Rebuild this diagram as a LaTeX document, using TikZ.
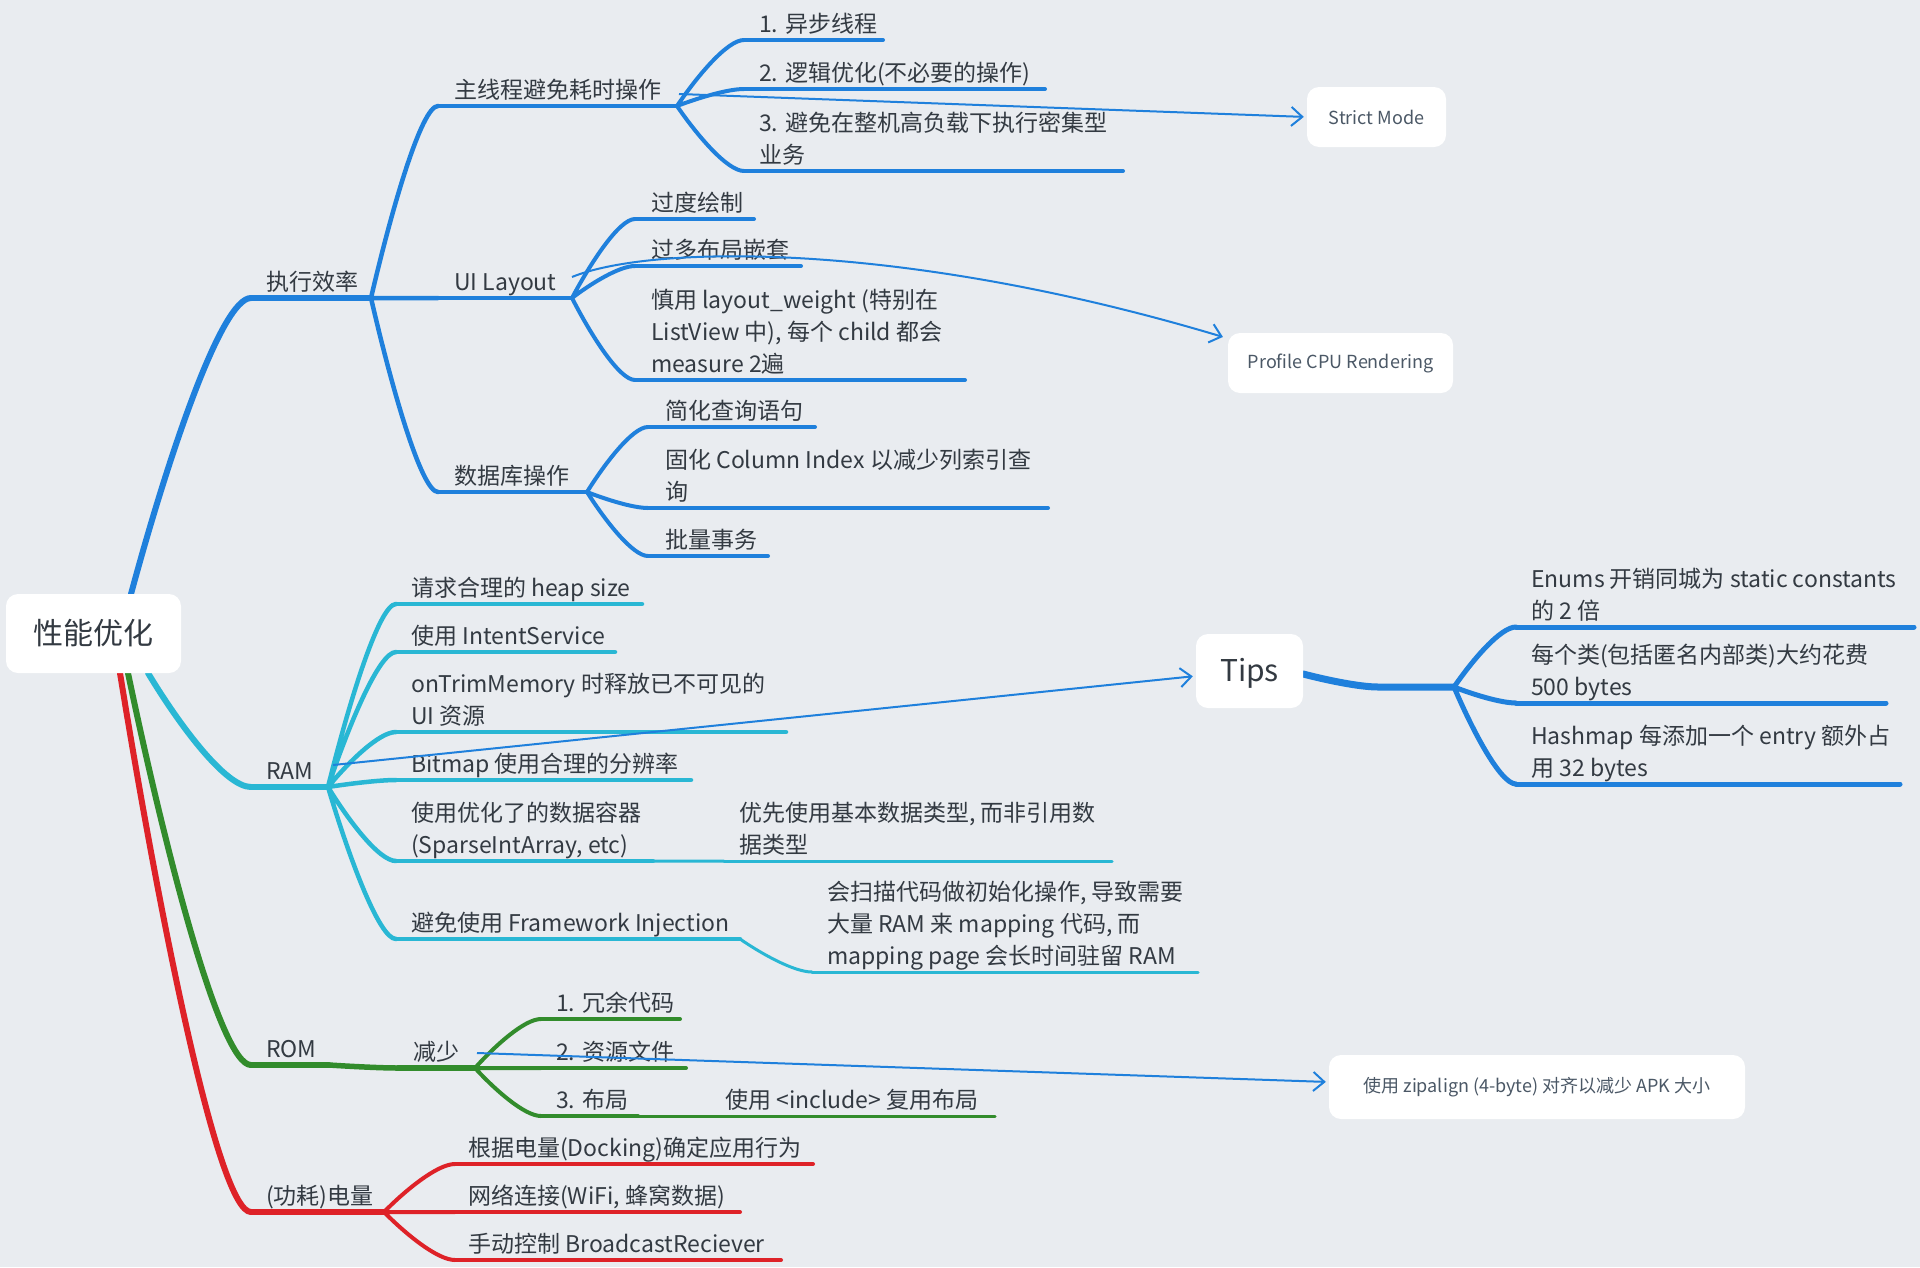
\documentclass[tikz,border=0pt]{standalone}
\usepackage{fontspec}
\setmainfont{Noto Sans CJK SC}
\usetikzlibrary{calc,arrows.meta,backgrounds}
\definecolor{bg}{RGB}{233,236,240}
\definecolor{mblue}{RGB}{31,128,220}
\definecolor{mcyan}{RGB}{41,183,212}
\definecolor{mgreen}{RGB}{50,140,44}
\definecolor{mred}{RGB}{222,34,40}
\definecolor{txtc}{RGB}{51,58,66}
\definecolor{boxtxt}{RGB}{75,88,102}
\newcommand\mlines[1]{\begin{tabular}[b]{@{}l@{}}#1\end{tabular}}
\tikzset{
  mind/.style={to path={let \p1=(\tikztostart), \p2=(\tikztotarget), \n1={\x2-\x1}, \n2={\y2-\y1} in
     .. controls +(0.3*\n1,0.45*\n2) and +(-0.25*\n1,0) .. (\tikztotarget)}},
  lab/.style={inner sep=0pt, anchor=base west, text=txtc, font=\fontsize{23}{32}\selectfont},
  mbox/.style={fill=white, rounded corners=12pt, inner sep=0pt, text=boxtxt},
  lw1/.style={line width=5.5pt, line cap=round},
  lw2/.style={line width=4.5pt, line cap=round},
  lw3/.style={line width=4pt, line cap=round},
  lw4/.style={line width=3pt, line cap=round},
  lwt/.style={line width=5pt, line cap=round},
  rel/.style={draw=mblue, line width=2pt, -{Straight Barb[length=11pt,width=19pt,line width=2pt]}, shorten >=3pt}
}
% #1 name, #2 line style, #3 x start, #4 x end, #5 y (down), #6 text offset, #7 text
\newcommand\mtopic[7]{%
  \coordinate (#1-s) at (#3,-#5);
  \coordinate (#1-e) at (#4,-#5);
  \node[lab] (#1) at (#3+#6,8-#5) {\mlines{#7}};
  \begin{scope}[on background layer]\draw[#2] (#1-s) -- (#1-e);\end{scope}
}
\begin{document}
\begin{tikzpicture}[x=1pt,y=1pt]
\useasboundingbox (0,0) rectangle (1920,-1267);
\begin{scope}[on background layer]
  \fill[bg] (0,0) rectangle (1920,-1267);
\end{scope}

% ---- boxes ----
\node[mbox, minimum width=175pt, minimum height=79pt, text=txtc, font=\fontsize{30}{36}\selectfont] (root) at (93.5,-633.5) {性能优化};
\node[mbox, minimum width=139pt, minimum height=60pt, font=\fontsize{18}{22}\selectfont] (strict) at (1376.5,-117) {Strict Mode};
\node[mbox, minimum width=225pt, minimum height=60pt, font=\fontsize{18}{22}\selectfont] (profile) at (1340.5,-363) {Profile CPU Rendering};
\node[mbox, minimum width=107pt, minimum height=74pt, text=txtc, font=\fontsize{30}{36}\selectfont, text depth=2pt] (tips) at (1249.5,-671) {Tips};
\node[mbox, minimum width=416pt, minimum height=64pt, font=\fontsize{18}{22}\selectfont] (zip) at (1537,-1087) {使用 zipalign (4-byte) 对齐以减少 APK 大小};

\coordinate (rA) at (131,-594);
\coordinate (rB) at (148,-673);
\coordinate (rC) at (128,-673);
\coordinate (rD) at (120,-673);

% ---- blue branch ----
\mtopic{zx}{lw1,draw=mblue}{251}{371}{298}{15}{执行效率}
\mtopic{zxc}{lw2,draw=mblue}{438}{677}{106}{16}{主线程避免耗时操作}
\mtopic{ui}{lw2,draw=mblue}{438}{572}{298}{16}{UI Layout}
\mtopic{db}{lw2,draw=mblue}{438}{587}{492}{16}{数据库操作}
\mtopic{a1}{lw3,draw=mblue}{744}{883}{40}{15}{1. 异步线程}
\mtopic{a2}{lw3,draw=mblue}{744}{1045}{89}{15}{2. 逻辑优化(不必要的操作)}
\mtopic{a3}{lw3,draw=mblue}{744}{1123}{171}{15}{3. 避免在整机高负载下执行密集型\\业务}
\mtopic{u1}{lw3,draw=mblue}{635}{754}{219}{16}{过度绘制}
\mtopic{u2}{lw3,draw=mblue}{635}{801}{266}{16}{过多布局嵌套}
\mtopic{u3}{lw3,draw=mblue}{635}{965}{380}{16}{慎用 layout\_weight (特别在\\ListView 中), 每个 child 都会\\measure 2遍}
\mtopic{d1}{lw3,draw=mblue}{648}{815}{427}{17}{简化查询语句}
\mtopic{d2}{lw3,draw=mblue}{648}{1048}{508}{17}{固化 Column Index 以减少列索引查\\询}
\mtopic{d3}{lw3,draw=mblue}{648}{768}{556}{17}{批量事务}

% ---- cyan branch ----
\mtopic{ram}{lw1,draw=mcyan}{251}{328}{787}{15}{RAM}
\mtopic{r1}{lw2,draw=mcyan}{396}{642}{604}{15}{请求合理的 heap size}
\mtopic{r2}{lw2,draw=mcyan}{396}{615}{652}{15}{使用 IntentService}
\mtopic{r3}{lw2,draw=mcyan}{396}{786}{732}{15}{onTrimMemory 时释放已不可见的\\UI 资源}
\mtopic{r4}{lw2,draw=mcyan}{396}{691}{780}{15}{Bitmap 使用合理的分辨率}
\mtopic{r5}{lw2,draw=mcyan}{396}{653}{861}{15}{使用优化了的数据容器\\(SparseIntArray, etc)}
\mtopic{r5a}{lw4,draw=mcyan}{724}{1112}{861}{15}{优先使用基本数据类型, 而非引用数\\据类型}
\mtopic{r6}{lw2,draw=mcyan}{396}{740}{939}{15}{避免使用 Framework Injection}
\mtopic{r6a}{lw4,draw=mcyan}{812}{1198}{972}{15}{会扫描代码做初始化操作, 导致需要\\大量 RAM 来 mapping 代码, 而\\mapping page 会长时间驻留 RAM}

% ---- tips ----
\coordinate (tk) at (1378,-687);
\coordinate (tj) at (1454,-687);
\mtopic{t1}{lwt,draw=mblue}{1516}{1914}{627}{15}{Enums 开销同城为 static constants\\的 2 倍}
\mtopic{t2}{lwt,draw=mblue}{1516}{1886}{703}{15}{每个类(包括匿名内部类)大约花费\\500 bytes}
\mtopic{t3}{lwt,draw=mblue}{1516}{1900}{784}{15}{Hashmap 每添加一个 entry 额外占\\用 32 bytes}

% ---- green branch ----
\mtopic{rom}{lw1,draw=mgreen}{251}{329}{1065}{15}{ROM}
\mtopic{js}{lw1,draw=mgreen}{398}{475}{1068}{15}{减少}
\mtopic{g1}{lw3,draw=mgreen}{541}{680}{1019}{15}{1. 冗余代码}
\mtopic{g2}{lw3,draw=mgreen}{541}{686}{1068}{15}{2. 资源文件}
\mtopic{g3}{lw3,draw=mgreen}{541}{638}{1116}{15}{3. 布局}
\mtopic{g3a}{lw4,draw=mgreen}{710}{995}{1116}{15}{使用 <include> 复用布局}

% ---- red branch ----
\mtopic{dl}{lw1,draw=mred}{251}{384}{1212}{15}{(功耗)电量}
\mtopic{e1}{lw3,draw=mred}{455}{813}{1164}{13}{根据电量(Docking)确定应用行为}
\mtopic{e2}{lw3,draw=mred}{455}{740}{1212}{13}{网络连接(WiFi, 蜂窝数据)}
\mtopic{e3}{lw3,draw=mred}{455}{781}{1260}{13}{手动控制 BroadcastReciever}

% ---- edges ----
\begin{scope}[on background layer]
  \draw[line width=6pt, line cap=round, draw=mblue] (rA) to[mind] (zx-s);
  \draw[lw2, draw=mblue] (zx-e) to[mind] (zxc-s) (zx-e) -- (ui-s) (zx-e) to[mind] (db-s);
  \draw[lw3, draw=mblue] (zxc-e) to[mind] (a1-s) (zxc-e) to[mind] (a2-s) (zxc-e) to[mind] (a3-s);
  \draw[lw3, draw=mblue] (ui-e) to[mind] (u1-s) (ui-e) to[mind] (u2-s) (ui-e) to[mind] (u3-s);
  \draw[lw3, draw=mblue] (db-e) to[mind] (d1-s) (db-e) to[mind] (d2-s) (db-e) to[mind] (d3-s);

  \draw[line width=6pt, line cap=round, draw=mcyan] (rB) to[mind] (ram-s);
  \draw[lw2, draw=mcyan] (ram-e) to[mind] (r1-s) (ram-e) to[mind] (r2-s) (ram-e) to[mind] (r3-s)
        (ram-e) to[mind] (r4-s) (ram-e) to[mind] (r5-s) (ram-e) to[mind] (r6-s);
  \draw[lw4, draw=mcyan] (r5-e) -- (r5a-s) (r6-e) to[mind] (r6a-s);

  \draw[line width=7pt, line cap=round, draw=mblue] ([yshift=-3pt]tips.east) to[mind] (tk) -- (tj);
  \draw[lwt, draw=mblue] (tj) to[mind] (t1-s) (tj) to[mind] (t2-s) (tj) to[mind] (t3-s);

  \draw[line width=6pt, line cap=round, draw=mgreen] (rC) to[mind] (rom-s);
  \draw[lw1, draw=mgreen] (rom-e) to[mind] (js-s);
  \draw[lw3, draw=mgreen] (js-e) to[mind] (g1-s) (js-e) -- (g2-s) (js-e) to[mind] (g3-s);
  \draw[lw4, draw=mgreen] (g3-e) -- (g3a-s);

  \draw[line width=6pt, line cap=round, draw=mred] (rD) to[mind] (dl-s);
  \draw[lw3, draw=mred] (dl-e) to[mind] (e1-s) (dl-e) -- (e2-s) (dl-e) to[mind] (e3-s);
\end{scope}

% ---- relation arrows ----
\coordinate (s1) at (679,-94);
\coordinate (s2) at (572,-277);
\coordinate (s3) at (333,-765);
\coordinate (s4) at (477,-1053);
\draw[rel] (s1) -- (strict.west);
\draw[rel] (s2) .. controls (650,-245) and (900,-240) .. ([shift={(-2,-5)}]profile.north west);
\draw[rel] (s3) -- ([yshift=-5pt]tips.west);
\draw[rel] (s4) -- ([yshift=5pt]zip.west);
\end{tikzpicture}
\end{document}
